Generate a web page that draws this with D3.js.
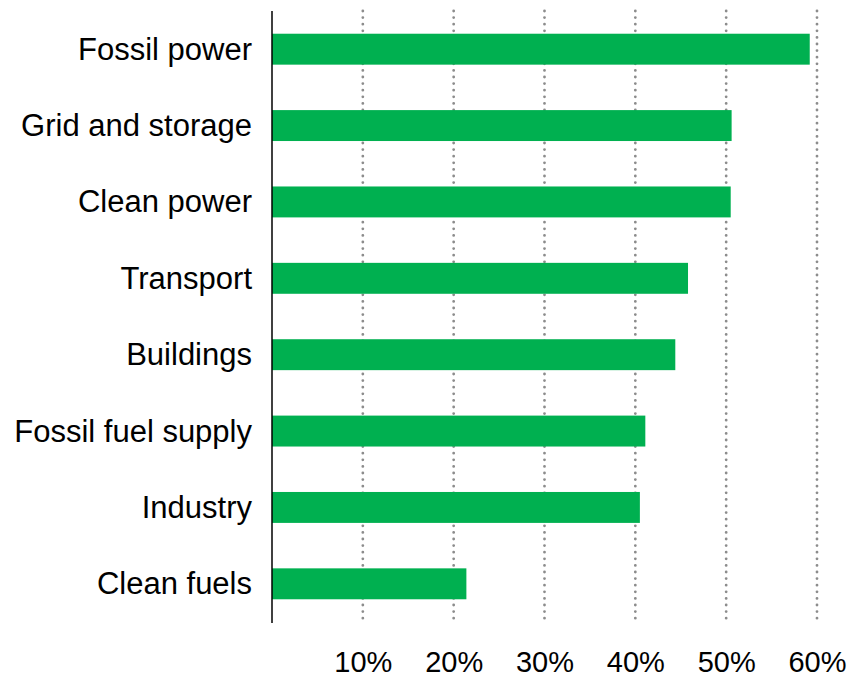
<!DOCTYPE html>
<html>
<head>
<meta charset="utf-8">
<script src="https://cdn.jsdelivr.net/npm/d3@7"></script>
<style>
  body { margin: 0; background: #fff; }
  text { font-family: "Liberation Sans", Arial, sans-serif; fill: #000; }
</style>
</head>
<body>
<div id="chart"></div>
<script>
// data
var categories = ['Fossil power', 'Grid and storage', 'Clean power', 'Transport',
                  'Buildings', 'Fossil fuel supply', 'Industry', 'Clean fuels'];
var shares = [0.592, 0.506, 0.505, 0.458, 0.444, 0.411, 0.405, 0.214];
var tickValues = [0.1, 0.2, 0.3, 0.4, 0.5, 0.6];

var data = categories.map(function(c, i) { return {name: c, value: shares[i]}; });

var W = 847, H = 678;
var plotLeft = 272, plotTop = 11, plotBottom = 622;

var svg = d3.select('#chart')
  .append('svg')
    .attr('width', W)
    .attr('height', H);

// scales
var x = d3.scaleLinear()
  .domain([0, 0.6])
  .range([plotLeft, 817]);

var y = d3.scaleBand()
  .domain(categories)
  .range([plotTop, plotBottom])
  .paddingInner(0.595)
  .paddingOuter(0.2975);

// dotted gridlines
svg.append('g')
  .selectAll('line')
  .data(tickValues)
  .enter()
  .append('line')
    .attr('x1', function(d) { return x(d); })
    .attr('x2', function(d) { return x(d); })
    .attr('y1', plotTop)
    .attr('y2', plotBottom)
    .attr('stroke', '#8c8c8c')
    .attr('stroke-width', 2.8)
    .attr('stroke-linecap', 'round')
    .attr('stroke-dasharray', '0,6.6');

// bars
svg.append('g')
  .selectAll('rect')
  .data(data)
  .enter()
  .append('rect')
    .attr('x', x(0))
    .attr('y', function(d) { return y(d.name); })
    .attr('width', function(d) { return x(d.value) - x(0); })
    .attr('height', y.bandwidth())
    .attr('fill', '#00b050');

// category labels
svg.append('g')
  .selectAll('text')
  .data(data)
  .enter()
  .append('text')
    .attr('x', 252)
    .attr('y', function(d) { return y(d.name) + y.bandwidth() / 2 + 10.5; })
    .attr('text-anchor', 'end')
    .style('font-size', '31px')
    .text(function(d) { return d.name; });

// bottom tick labels
var xAxis = svg.append('g')
  .attr('transform', 'translate(0,' + plotBottom + ')')
  .call(d3.axisBottom(x)
    .tickValues(tickValues)
    .tickFormat(d3.format('.0%'))
    .tickSize(0)
    .tickPadding(29));
xAxis.select('.domain').remove();
xAxis.selectAll('text')
  .style('font-size', '29px')
  .style('font-family', '"Liberation Sans", Arial, sans-serif')
  .attr('fill', '#000');

// left axis line
svg.append('line')
  .attr('x1', plotLeft)
  .attr('x2', plotLeft)
  .attr('y1', plotTop)
  .attr('y2', plotBottom + 1)
  .attr('stroke', '#000')
  .attr('stroke-width', 1.5);
</script>
</body>
</html>
